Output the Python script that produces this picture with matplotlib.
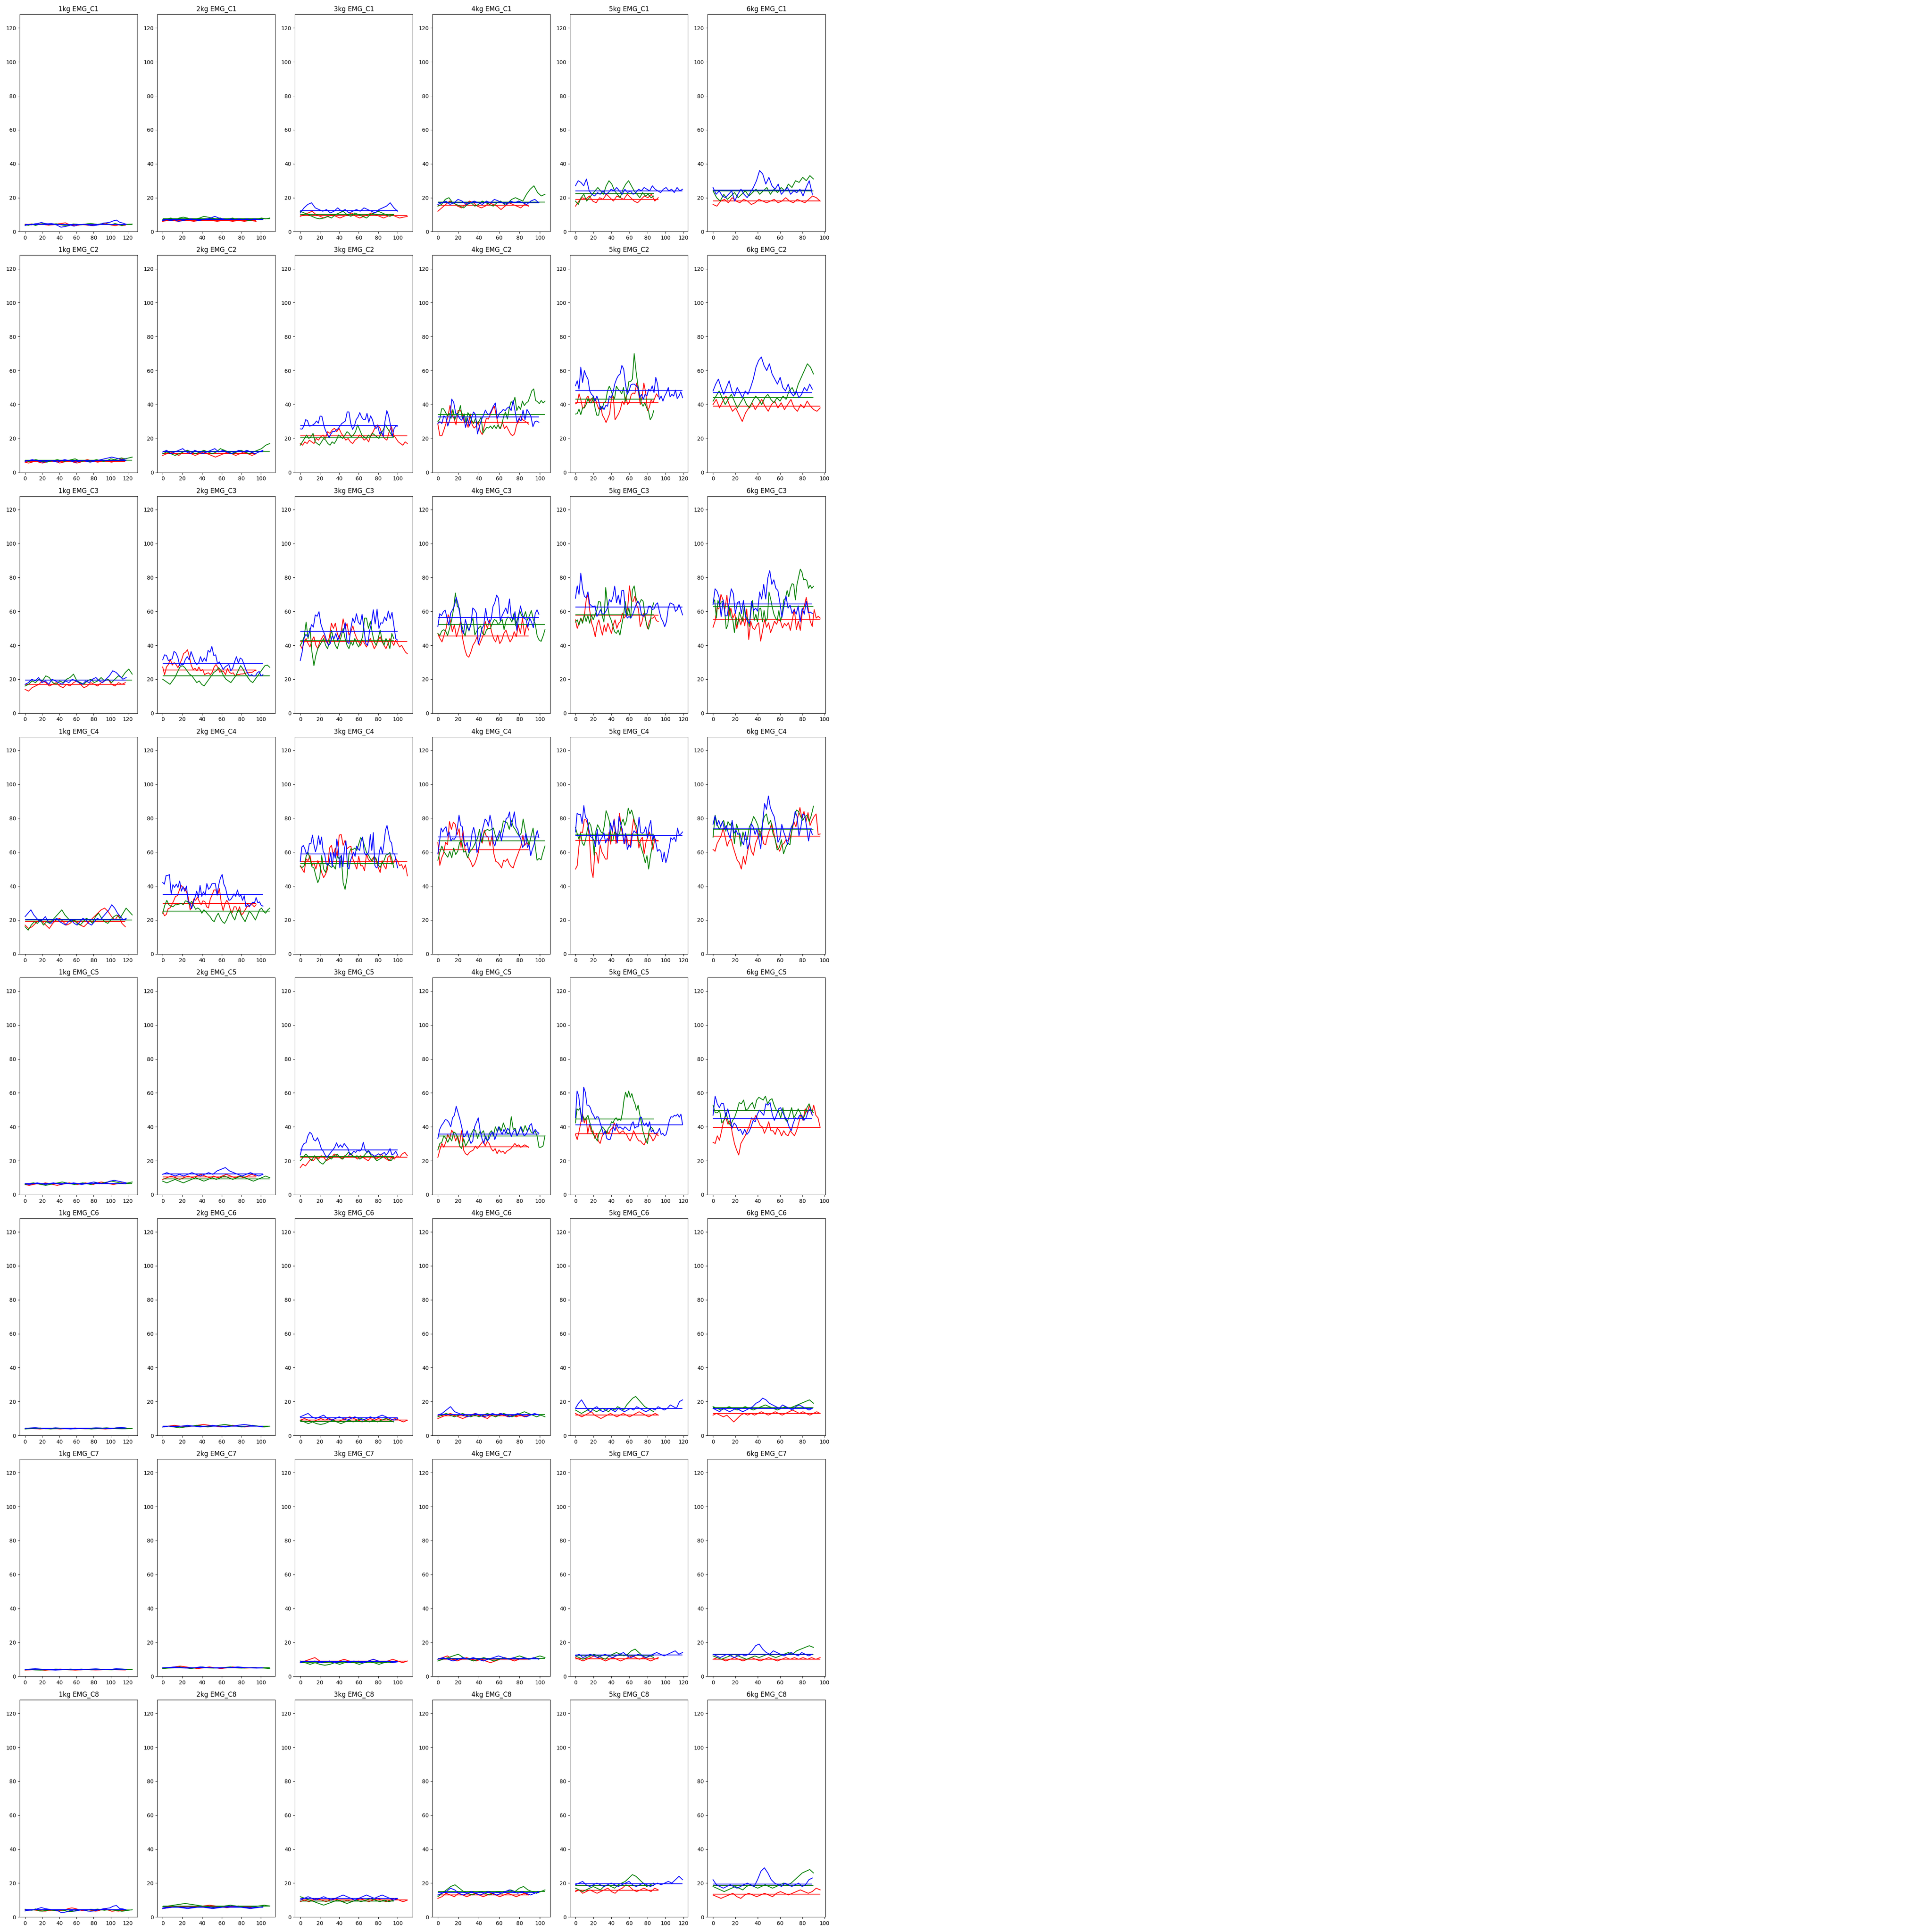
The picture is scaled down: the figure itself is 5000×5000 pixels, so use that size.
import numpy as np
import matplotlib
matplotlib.use("Agg")
import matplotlib.pyplot as plt

KG = ["1kg", "2kg", "3kg", "4kg", "5kg", "6kg"]
CHANNELS = ["EMG_C1", "EMG_C2", "EMG_C3", "EMG_C4", "EMG_C5", "EMG_C6", "EMG_C7", "EMG_C8"]

# number of samples of each trial (per load column)
LEN_RED = [118, 96, 111, 90, 93, 97]
LEN_GREEN = [126, 110, 97, 106, 88, 91]
LEN_BLUE = [119, 103, 101, 100, 120, 90]

# mean level lines  [channel][load]
MEAN_RED = [
    [4.2, 6.5, 9.5, 15.5, 19, 18],
    [6.5, 11, 21.5, 29.5, 41, 39],
    [17, 25.4, 42.3, 45.4, 57.8, 55],
    [19, 29.8, 54.5, 61.5, 67, 69.5],
    [6.5, 10.5, 22, 28.2, 35.9, 39.7],
    [4.1, 5.5, 9.2, 11.6, 12, 13],
    [3.9, 5, 8.9, 10, 10.3, 10],
    [4.1, 6, 10, 13, 15.8, 13.5],
]
MEAN_GREEN = [
    [4.3, 7.5, 10, 17.5, 22.5, 24],
    [7.2, 12.5, 20.5, 34, 43.1, 44],
    [19.5, 22, 42.7, 52.4, 58, 62.7],
    [20, 25.3, 53.2, 66.6, 70.6, 73.4],
    [6.5, 9.3, 22.5, 34.6, 44.5, 49.7],
    [4.1, 5.5, 8.3, 12.2, 16, 16.5],
    [3.9, 5, 8, 10.6, 12.3, 12.8],
    [4.2, 6.5, 9.5, 15, 18.5, 18.5],
]
MEAN_BLUE = [
    [4.3, 7.2, 12.5, 17, 24, 24.5],
    [7, 12.3, 27.7, 32.6, 48.1, 47],
    [19.5, 29.2, 48.3, 56.5, 62.6, 64.3],
    [20.5, 35.1, 59, 69, 69.8, 73.7],
    [6.5, 12.3, 26.3, 35.7, 41.3, 44.9],
    [4.3, 5.5, 10.5, 12.3, 16, 16],
    [4.1, 5, 8.7, 10.3, 12.5, 13],
    [4.3, 5.7, 11, 14.5, 19.7, 19.5],
]

# ---------------- EMG_C1 ----------------
C1_RED = [
    [4.3, 4.2, 4.5, 4.0, 4.3, 4.6, 4.1, 3.8, 4.0, 4.2, 4.6, 4.8, 5.2, 4.3, 3.9, 3.5, 3.8, 4.2, 4.0, 3.7, 3.9, 4.2, 4.0, 4.6, 5.0, 4.3, 3.8, 3.5, 4.0, 3.6, 3.8],
    [6.0, 6.5, 7, 6.5, 6, 7, 7.5, 6.5, 6, 6.5, 7, 6.5, 7, 6.5, 6, 6.5, 7, 6.5, 6, 6.5, 6.5, 6, 6.5, 6.5, 6],
    [9, 10, 11, 12, 10, 9, 8, 9, 10, 9, 8, 9, 10, 11, 9, 8, 9, 10, 11, 10, 9, 8, 9, 10, 9, 8, 8.5, 9],
    [12, 14, 16, 18, 17, 15, 14, 16, 18, 17, 15, 14, 15, 17, 16, 15, 13, 15, 17, 16, 15, 14, 16, 15],
    [15, 18, 20, 19, 21, 18, 17, 20, 19, 22, 20, 18, 21, 20, 19, 22, 20, 18, 17, 19, 21, 20, 22, 18, 20],
    [16, 15, 18, 19, 17, 20, 18, 17, 19, 18, 16, 17, 19, 18, 17, 18, 19, 17, 18, 20, 18, 17, 19, 18, 17, 19, 21, 20, 18],
]
C1_GREEN = [
    [4.0, 3.7, 4.5, 3.6, 4.3, 4.6, 4.5, 4.0, 4.4, 4.6, 4.2, 3.8, 3.5, 3.9, 4.5, 4.3, 4.0, 4.2, 4.6, 4.8, 4.5, 4.2, 4.6, 4.3, 4.5, 4.0, 4.8, 4.2, 3.5, 4.2, 4.3, 4.4],
    [7, 7.5, 8, 7, 8, 8.5, 8, 7, 7.5, 8, 9, 8.5, 8, 7.5, 8, 7, 7.5, 8, 7, 7.5, 7, 6.5, 7, 7.5, 8, 7.5, 8],
    [12, 11, 10, 9, 8, 7.5, 8, 9, 8, 10, 11, 12, 10, 9, 11, 10, 9, 8, 10, 11, 12, 11, 10, 9, 10],
    [15, 16, 19, 20, 17, 16, 15, 14, 16, 17, 15, 16, 18, 17, 16, 15, 17, 18, 16, 17, 19, 20, 19, 18, 22, 25, 27, 23, 21, 22],
    [18, 16, 20, 22, 18, 20, 22, 24, 26, 24, 22, 27, 30, 28, 24, 22, 20, 25, 28, 30, 27, 24, 22, 20, 23, 21, 22, 20, 21],
    [24, 20, 18, 22, 19, 21, 23, 20, 22, 24, 21, 23, 25, 22, 24, 26, 22, 25, 23, 26, 24, 28, 26, 30, 29, 32, 30, 33, 31],
]
C1_BLUE = [
    [3.6, 4.2, 4.0, 4.6, 4.8, 5.4, 4.8, 4.6, 4.8, 4.4, 3.6, 2.6, 2.9, 3.3, 3.8, 3.2, 3.9, 4.1, 4.3, 4.0, 3.6, 3.5, 3.8, 4.3, 5.0, 5.2, 5.5, 6.3, 6.8, 5.5, 5.0, 4.3],
    [6.5, 7, 6.5, 7, 6, 6.5, 7, 7.5, 7, 6.5, 7, 7.5, 8, 9, 8, 7.5, 7, 7.5, 7, 7.5, 7, 7.5, 7, 7.5, 7, 7],
    [11, 14, 16, 17, 14, 13, 12, 13, 11, 12, 14, 12, 13, 11, 12, 13, 12, 14, 13, 12, 11, 13, 14, 15, 17, 14, 12],
    [16, 17, 18, 16, 17, 19, 18, 16, 17, 18, 17, 16, 18, 17, 19, 18, 17, 16, 18, 17, 18, 17, 16, 18, 19, 17],
    [27, 30, 29, 27, 31, 24, 22, 21, 23, 22, 24, 22, 23, 25, 24, 26, 24, 22, 25, 23, 24, 22, 23, 25, 24, 26, 25, 24, 27, 25, 24, 23, 25, 26, 24, 25, 23, 26, 24, 25],
    [26, 22, 24, 21, 20, 22, 24, 18, 22, 25, 22, 20, 23, 26, 30, 36, 34, 28, 32, 27, 25, 28, 22, 24, 26, 22, 24, 23, 25, 21, 26, 30, 22],
]

# ---------------- EMG_C2 ----------------
C2_RED = [
    [6, 5.5, 6, 7, 6, 5.5, 6, 6.5, 7, 6.5, 5.5, 6, 6.5, 7, 6, 5.5, 6, 7, 7.5, 7, 6.5, 6, 6.5, 7, 6.5, 6, 6.5, 7, 8, 7],
    [10, 11, 12, 11, 10, 12, 13, 11, 10, 11, 12, 11, 10, 9, 10, 11, 12, 11, 10, 11, 12, 11, 10, 11],
    [17, 16, 18, 17, 19, 18, 17, 20, 19, 21, 22, 20, 24, 23, 25, 26, 24, 26, 23, 21, 19, 20, 18, 17, 19, 20, 22, 21, 19, 20, 18, 22, 24, 27, 28, 26, 22, 20, 19, 24, 27, 22, 20, 18, 17, 16, 18, 17],
    [28.4, 21.6, 21.6, 25, 28.8, 33, 39.4, 34.1, 31.8, 28, 36.4, 36.7, 34.8, 29.9, 30.3, 26.5, 34.5, 28, 26.1, 27.3, 29.9, 24.2, 22.3, 27.3, 31.8, 31.4, 34.1, 37.1, 39, 33.3, 27.3, 25.8, 29.5, 25.8, 27.3, 25, 22.7, 21.6, 22.7, 28, 29.9, 33.3, 31, 30.3, 29.5, 28.4],
    [40.4, 41, 46.3, 42.7, 37.7, 38.6, 43.6, 45, 41.8, 43.6, 41.4, 43.6, 40, 37.3, 39, 33.7, 31.9, 29.4, 31.9, 34.6, 43.6, 45, 31, 32.8, 34.6, 37.3, 41.8, 40, 44.5, 40, 41.8, 45.9, 46.8, 46.3, 52.6, 47.2, 40, 44.5, 52.6, 47.2, 36.4, 38.2, 42.7, 41, 43.6, 46.3, 44.5],
    [40, 43, 38, 42, 45, 40, 36, 38, 34, 30, 35, 38, 41, 37, 40, 43, 39, 36, 40, 42, 38, 41, 37, 40, 43, 38, 36, 40, 38, 42, 39, 37, 36, 38],
]
C2_GREEN = [
    [7, 6.5, 7, 7.5, 7, 6.5, 6, 6.5, 7, 7.5, 7, 6.5, 7, 7.5, 8, 7, 6.5, 7, 6.5, 7, 7.5, 7, 6.5, 7, 8, 7.5, 8, 8.5, 8, 8.5, 9],
    [11, 12, 11, 10, 11, 12, 13, 12, 11, 12, 13, 12, 11, 12, 14, 13, 12, 11, 12, 13, 12, 11, 12, 13, 14, 16, 17],
    [16, 18, 20, 22, 20, 21, 23, 18, 17, 16, 18, 20, 19, 17, 16, 18, 17, 19, 22, 21, 20, 22, 24, 23, 21, 22, 24, 28, 25, 22, 21, 20, 22, 21, 23, 22, 21, 20, 23, 25, 28, 26, 24, 22, 21],
    [29.9, 31.4, 37.5, 37.5, 35.6, 33.3, 34.8, 31.8, 37.1, 31, 34.5, 35, 39.4, 31.8, 34.5, 29.5, 35.2, 33.3, 30.7, 28.8, 31.8, 28.8, 30.3, 32.6, 23.1, 25, 26.5, 26.1, 27.3, 25.8, 27.7, 25.8, 28, 25.8, 28, 33, 35.6, 31.4, 37.9, 41.7, 40.5, 44.3, 36.4, 39, 37.1, 42, 39.4, 40.9, 41.7, 44.7, 48.1, 49.2, 42.4, 41.7, 40.5, 42.4, 40.9, 42],
    [34.4, 34.6, 37.3, 34, 38, 38, 40, 43.5, 41, 41, 45, 38, 33.7, 33.7, 39, 37.3, 41, 41.8, 48, 50.8, 48.6, 45, 43.6, 50.8, 49, 48, 46.3, 50, 41.8, 46.3, 53.5, 53.5, 55, 70, 60, 52, 46, 41, 39, 41, 38, 36.4, 31, 32.8, 36.4],
    [42, 45, 48, 44, 40, 43, 46, 42, 38, 41, 44, 40, 38, 42, 45, 43, 40, 44, 46, 43, 41, 44, 42, 45, 43, 48, 50, 46, 52, 56, 60, 64, 62, 58],
]
C2_BLUE = [
    [6.5, 7, 7.5, 7, 6.5, 6, 6.5, 7, 6.5, 6, 7, 7.5, 7, 6.5, 6, 6.5, 7, 6.5, 6, 6.5, 7, 7.5, 8, 8.5, 9, 8.5, 8, 7.5, 8],
    [12, 13, 11, 12, 13, 14, 12, 11, 13, 12, 11, 12, 13, 14, 12, 13, 12, 11, 12, 13, 12, 13, 12, 11, 12, 13],
    [25.6, 25.5, 27.3, 31.1, 30.5, 27.3, 27.5, 28, 28.8, 30.3, 29, 33.2, 33, 28, 24.6, 22.7, 20.5, 22.7, 24.2, 24, 25, 25.8, 27.3, 28.8, 29.5, 30.3, 35.6, 35.6, 28.8, 25.4, 27.3, 31.1, 32.6, 35.2, 32.6, 31.1, 31.1, 34.8, 29.5, 33.3, 31.1, 27.3, 25.8, 27.3, 22.7, 24.2, 21.2, 30.3, 36.4, 33.3, 28, 21.2, 25.8, 27.3, 27.3],
    [28.8, 29.9, 28.8, 33.3, 32.6, 27.3, 31, 43.2, 41.3, 34.8, 34.1, 31.8, 30.7, 33, 26.5, 31.8, 27.3, 32.2, 35.6, 34.1, 22.7, 27.3, 31, 33.7, 36.7, 34.5, 34.1, 36.4, 39, 40.9, 31.8, 34.8, 35.6, 37.1, 36.4, 37.9, 38.6, 36.4, 42.4, 36, 29.5, 31.8, 30.3, 36.7, 31, 37.1, 35.2, 33, 26.9, 29.9, 30.3, 29.5],
    [51, 54, 49, 62, 53, 60, 57, 55, 48, 46, 45, 42, 45, 42, 37, 39, 37, 39.5, 39, 45, 44, 47, 52, 55, 57, 58, 63, 61, 52, 46, 48, 51.5, 52, 52, 51, 50, 44, 46, 43, 46, 45, 49, 48, 51, 47, 56, 52, 43, 45, 42, 45, 47, 50, 44.5, 46, 45, 48.5, 43.5, 45, 47.5, 44],
    [48, 52, 55, 50, 46, 50, 54, 48, 45, 50, 47, 44, 48, 46, 50, 55, 62, 66, 68, 63, 60, 64, 58, 55, 52, 56, 50, 48, 52, 47, 45, 48, 44, 46, 50, 48, 52, 49],
]

# ---------------- EMG_C3 ----------------
C3_RED = [
    [14, 13, 15, 16, 17, 19, 18, 16, 17, 18, 16, 15, 17, 16, 18, 19, 17, 15, 16, 18, 17, 16, 18, 19, 20, 17, 16, 18, 17, 18],
    [27.2, 22.7, 27.2, 28.7, 31.7, 28.3, 29.8, 28.7, 26.8, 29.1, 31.7, 35.2, 35.9, 37.4, 33.3, 28.1, 25.7, 26.4, 24.9, 27.2, 24.9, 25.7, 22.7, 23.4, 23.8, 22.7, 24.1, 27.2, 28.7, 26.8, 24.1, 24.9, 24.5, 22.7, 26.4, 24.1, 23.4, 23.8, 21.9, 22.7, 22.7, 23.1, 23.1, 23.4, 23.8, 23.8, 24.1, 24.1, 24.9, 25.3],
    [40, 38, 42, 44, 41, 39, 43, 45, 40, 38, 42, 44, 46, 43, 41, 45, 53, 50, 53, 47, 44, 48, 55.6, 50, 52.8, 46, 48, 51.4, 47, 44, 42, 40, 43, 41, 39, 42, 44, 41, 38, 40, 43, 45, 42, 40, 38, 41, 44, 42, 40, 43, 41, 39, 40, 38, 36, 35],
    [47, 44, 42, 46, 50, 58, 55, 48, 52, 45, 49, 54, 44, 38, 34, 33, 36, 40, 42, 45, 40, 43, 46, 54, 50, 55, 48, 44, 42, 46, 41, 43, 47, 49, 45, 42, 44, 48, 45, 52, 47, 56, 46, 52, 49],
    [55, 50, 53, 56, 54, 58, 67, 70, 60, 53, 50, 45, 52, 55, 50, 46, 52, 48, 53, 50, 47, 52, 55, 50, 53, 54, 59, 56, 57.5, 62, 75, 66.6, 65.8, 68.9, 63.6, 61.3, 51, 54, 59, 55, 50, 54, 56, 56, 57, 54.5, 54],
    [50.6, 54.2, 62.3, 61.4, 70, 66.8, 61.4, 69.5, 56.9, 61.9, 56, 58.7, 49.7, 56, 52, 56.9, 51.5, 61.4, 43.4, 54.2, 50.2, 49.3, 52, 53.3, 42.5, 48.8, 55.1, 50.6, 53.3, 47.5, 50.6, 54.2, 52.4, 55.1, 54.2, 50.2, 52.9, 51.5, 53.3, 48.8, 55.1, 61.4, 49.3, 54.2, 48.8, 59.6, 63.2, 68.2, 61.4, 54.2, 51.1, 61, 56, 57.1, 56],
]
C3_GREEN = [
    [16, 17, 19, 18, 20, 19, 22, 21, 18, 17, 19, 18, 20, 21, 23, 19, 18, 17, 19, 20, 18, 19, 21, 19, 20, 18, 20, 22, 21, 24, 26, 23],
    [20, 19, 18, 17, 19, 21, 24, 27, 28, 27, 25, 23, 22, 20, 18, 19, 17, 16, 18, 20, 22, 24, 25, 26.8, 25, 22, 20, 19, 18, 20, 22, 25, 28, 26, 23, 21, 19, 18, 20, 22, 24, 26, 28, 28.3, 27],
    [40, 42, 45, 53.7, 44, 50, 36, 28, 34, 38, 40, 42, 44, 40, 38, 42, 48.9, 44, 40, 38, 42, 45, 50, 44, 40, 38, 42, 40, 44, 41, 39, 42, 45, 56, 56, 50, 54, 47, 42, 40, 44, 49, 43, 40, 44, 42, 38, 47, 44],
    [46.9, 45.8, 48.4, 49.2, 48.4, 45.8, 49.9, 54.5, 60.9, 70.8, 62.8, 62, 53, 48.4, 45.4, 52.2, 48.4, 53, 56, 46.1, 48.4, 50.3, 51.4, 46.9, 46.1, 49.2, 49.9, 49.9, 53, 55.2, 54.5, 52.2, 53.7, 55.2, 49.2, 54.5, 56.7, 56, 53.7, 58.6, 51.4, 56, 60.5, 57.5, 56, 59.8, 54.8, 57.5, 60.5, 55.2, 52.6, 45.4, 43.1, 42.3, 45.4, 49.2],
    [53.7, 55, 52, 56, 53, 58, 54, 57.5, 53, 58, 55, 58, 60.5, 65.8, 65.5, 57.5, 53.7, 74, 64, 57.5, 55, 51.4, 48, 47, 49, 46, 52, 57.5, 65.8, 57.5, 62, 56, 72.7, 75, 68, 65, 64.7, 67, 66, 58, 52, 49.5, 53, 62, 65],
    [65, 66.8, 56, 66.4, 63.7, 65.5, 65.9, 61.4, 49.7, 52, 62.3, 56.5, 55.1, 47.5, 56.5, 52, 59.6, 56.5, 54.2, 63.2, 56.9, 56, 51.1, 59.6, 66.4, 54.7, 58.3, 53.8, 61.4, 61.9, 53.8, 60.5, 54.2, 56, 71.4, 67.3, 62.3, 58.3, 56, 54.7, 60.5, 54.2, 58.3, 66.8, 67.7, 72.3, 68.6, 73.6, 76.3, 75.9, 66.8, 75.9, 80.4, 84.9, 83.1, 78.6, 79, 78.1, 73.6, 75.4, 73.6, 74.8],
]
C3_BLUE = [
    [17, 18, 20, 19, 21, 18, 19, 17, 20, 19, 18, 17, 19, 18, 20, 19, 18, 17, 19, 18, 20, 21, 19, 18, 20, 22, 25, 24, 22, 20, 21],
    [31.4, 34.4, 34, 31, 31.5, 32, 36.4, 35.5, 32.9, 28, 28.7, 28.7, 31.7, 33.3, 31.4, 36.3, 33.3, 30.2, 28.7, 29.5, 33.3, 30.2, 32.5, 30.6, 37, 35.9, 39.3, 34, 34.4, 29.1, 30.2, 28, 25.7, 27.2, 28, 28.7, 24.9, 26.4, 30.2, 33.3, 29.5, 32.5, 31.7, 28.7, 25.7, 23.4, 21.9, 22.7, 21.9, 21.9, 23.8, 24.6, 21.9, 22.7],
    [31, 36, 44, 46.5, 45, 47.7, 52.2, 50.7, 57.9, 57.1, 59.8, 52.6, 49.2, 46.5, 43, 40, 41, 45.4, 43.9, 46.9, 43, 45.8, 48.4, 47.5, 53.3, 42, 41, 49.9, 56, 53.3, 58.6, 53.7, 52.2, 58.3, 49.5, 41, 40, 48.4, 53, 60.9, 52.6, 61.3, 49.9, 53.3, 53, 56.7, 54.5, 60.2, 55.6, 59.4, 51.4, 43.9, 43],
    [51.1, 58.6, 57.5, 59.8, 60.7, 56, 51.8, 59, 60.9, 63.2, 68.3, 64.3, 58.3, 49.2, 46.9, 55.2, 50.7, 48.8, 52.2, 62, 60.9, 59, 40.8, 45, 49.9, 51.8, 61.7, 55.2, 53, 55.2, 62.8, 65.1, 69.6, 67.7, 54.5, 57.5, 59.8, 62, 58.6, 67.3, 56.4, 55.2, 59.8, 48.8, 56.7, 63.2, 58.3, 56, 55.2, 50.7, 56, 53.7, 50.3, 58.6, 60.9, 58.3],
    [67.7, 75, 70, 82.5, 73.4, 68.9, 68, 71.5, 64.3, 63.2, 62.8, 63.2, 57, 58.5, 61, 58.5, 58.5, 60, 62, 67, 65.5, 68.5, 74.9, 65.1, 69.6, 63.9, 72.3, 72.3, 60, 56, 57, 56, 58, 61, 64, 66, 64, 58, 57, 58.5, 58.6, 63, 63, 61, 61.5, 64, 65, 60, 56, 54, 51, 54, 62, 65, 64.5, 64, 60, 61, 64, 61.3, 57.9],
    [64.1, 73.3, 71.8, 68.2, 56.9, 66.8, 57.4, 57.4, 65.5, 73.3, 70.5, 58.7, 65, 65.9, 58.7, 66.4, 56.9, 54.2, 52.9, 65.9, 60.5, 61.9, 60.1, 71.4, 67.3, 75.9, 67.3, 79.6, 84, 75.9, 78.6, 73.6, 72.3, 65, 56.5, 63.2, 69.1, 61.9, 63.7, 58.7, 61, 58.3, 63.2, 53.8, 61.9, 58.3, 65.9, 59.2, 59.6, 58.7],
]

# ---------------- EMG_C4 ----------------
C4_RED = [
    [17, 15, 16, 18, 20, 19, 17, 15, 18, 20, 21, 19, 17, 18, 20, 19, 17, 16, 18, 20, 22, 24, 26, 27, 25, 22, 20, 23, 18, 16],
    [24.8, 22.5, 23.3, 26.7, 27.1, 29, 31.3, 33.9, 34.3, 37.3, 40.4, 39.2, 38.5, 36.6, 33.2, 25.9, 28.6, 32.4, 31.6, 33.5, 30.9, 29, 31.3, 30.9, 27.8, 27.1, 32.4, 34.7, 37.7, 37.7, 34.7, 38.5, 30.1, 25.6, 29.4, 31.6, 29.8, 25.9, 24.4, 27.8, 27.8, 24.8, 27.8, 22.9, 24, 25.9, 27.8, 28.2, 29, 29, 27.8, 29],
    [52, 50, 48, 56, 55, 58, 52, 53.7, 50, 55, 52, 48, 45, 47, 50, 62.4, 64, 58, 62.4, 57, 70, 70.4, 64, 67, 62, 63, 63.5, 56, 53, 50, 57.5, 52, 52, 49, 59, 55.5, 54.5, 56, 57.5, 55, 51, 48, 55, 52, 50, 57, 58, 53, 53.7, 56.3, 54.5, 52, 52.7, 50, 52.5, 46],
    [65.8, 52.2, 56.7, 59.4, 65.8, 64.3, 78, 73.4, 77.6, 76.4, 70.4, 73.8, 62.8, 72.7, 62, 58, 56.5, 54.5, 51.4, 53, 56, 60, 68.9, 65.3, 73, 69.6, 68.9, 63.6, 69.6, 59, 54.5, 54, 52.5, 50.7, 55.2, 54.5, 56, 53, 51.4, 50.7, 54.5, 57.5, 60.6, 63.6, 70, 64, 65.8, 64.3],
    [50, 52, 63.5, 71.9, 71.5, 79.1, 79, 76.4, 67.3, 50, 45, 59.7, 59.5, 53.5, 64.3, 60.1, 58.2, 55.9, 55.9, 71.5, 64.7, 72.6, 79.5, 65, 70.4, 82.9, 74.5, 68.8, 65, 69.6, 64.3, 63.5, 71.9, 79.8, 74.9, 70.4, 62.4, 67.3, 68.8, 59, 65.8, 68.8, 71.9, 66.6, 61.3, 68.1, 66.6, 66.6],
    [61.6, 60.5, 65, 67.3, 69.6, 74.2, 68.8, 63.5, 66.6, 67.7, 62.8, 59, 55.2, 53.7, 50, 57.5, 52.9, 59.7, 65.8, 60.5, 58.2, 65, 68.1, 72.6, 71.1, 65, 64.3, 69.6, 73.4, 76.8, 71.9, 65.8, 62.8, 60.5, 64.3, 65, 67.3, 66.6, 68.1, 72.3, 78, 74.9, 81, 86.3, 79.5, 84, 78, 83.3, 75.7, 78.7, 81, 82.5, 70.4, 70.7],
]
C4_GREEN = [
    [16, 14, 17, 19, 18, 20, 17, 19, 18, 20, 22, 24, 26, 23, 21, 19, 20, 18, 17, 19, 21, 20, 18, 22, 24, 21, 19, 18, 20, 22, 23, 21, 24, 27, 25, 23],
    [24, 28.6, 31.6, 29, 28.2, 27.8, 29, 29, 29.4, 29.8, 29, 31.3, 30.9, 29, 31, 28.6, 26.3, 27.1, 26.3, 24, 26, 24.8, 23.3, 22, 20, 19, 22, 24, 21, 19, 18, 20, 23, 25, 22, 20, 24, 26, 23, 21, 19, 22, 25, 24, 22, 20, 23, 26, 27, 25, 24, 26, 27],
    [51.4, 51, 52, 57.5, 59.8, 56, 51.4, 50.7, 46, 42, 45, 58, 50, 48, 53, 52, 51, 52, 50, 57.5, 56, 58, 42, 38, 45, 59, 62, 61.5, 62.4, 61, 64.7, 68.5, 67.4, 63.6, 59.8, 58.3, 56, 54.5, 57.5, 56, 52.5, 51, 53.5, 55, 58.3, 58.7, 59.8, 56, 51],
    [55.2, 60, 63.6, 60.5, 58.6, 57, 60.5, 56.7, 62.4, 58.6, 60.5, 65.8, 66.6, 60, 60.5, 56.7, 60, 61.5, 63.2, 65.8, 68.1, 73.4, 65.8, 70.4, 72.7, 73.4, 72.7, 73.4, 74.2, 69.6, 66.6, 70, 71.9, 78.4, 78, 77.2, 73.4, 78.7, 75, 73.4, 71.2, 69.6, 71.2, 79.5, 73, 68.1, 64.3, 69.4, 74.2, 64.3, 55.2, 56.3, 55.5, 60, 63.6],
    [74.5, 71, 67.7, 71.1, 65.4, 63.9, 67.3, 73.4, 77.6, 75.7, 70.4, 58.2, 72.3, 76.1, 74.2, 71.9, 71.1, 75.7, 84.4, 81.7, 78, 66.6, 67, 71.9, 71.1, 69.2, 71.1, 77.2, 79.5, 75.7, 78.7, 85.9, 82.5, 84.8, 81, 77.2, 75.3, 66.6, 65, 61.3, 58.2, 53.7, 58, 50, 57.5, 62.8, 69.6],
    [68.8, 81.7, 76.1, 73.4, 76.8, 78.7, 72.3, 78, 75.7, 78, 65, 76.4, 72.6, 63.5, 71.9, 67.7, 67.3, 74.9, 77.2, 81, 78.7, 75.7, 68.8, 75.7, 81, 82.5, 76.4, 78.7, 71.1, 68.1, 61.3, 62.8, 67.3, 59, 62.8, 65.4, 64.3, 74.2, 80.2, 84.8, 84, 81, 78.7, 81, 81.7, 78, 81.7, 87.1],
]
C4_BLUE = [
    [22, 24, 26, 23, 21, 19, 20, 22, 19, 18, 20, 21, 19, 18, 17, 19, 20, 18, 17, 19, 21, 20, 18, 17, 19, 21, 20, 22, 24, 26, 29, 27, 24, 22, 20, 21],
    [42.1, 41.1, 46.2, 46.2, 46.8, 35.3, 40.8, 39.2, 41.1, 39.2, 43, 37, 39.6, 37, 40, 30.9, 30.1, 26.7, 30.1, 33.2, 37, 33.2, 40.4, 33.9, 36.6, 34.7, 41.5, 38.1, 39.2, 41.4, 41.5, 41.5, 34.7, 40.8, 44.9, 46.8, 41.1, 38.9, 34.3, 31.6, 32, 33.5, 35.4, 33.9, 37.7, 33.9, 34.7, 31.6, 34.3, 27.8, 29.4, 27.8, 29.4, 30.5, 30.1, 33.2, 30.1, 30.7, 28.6, 28.2],
    [54.5, 63, 63.9, 62, 59, 60.2, 65.1, 65, 70, 64.3, 60.2, 63.6, 69.6, 64.3, 68.9, 60.5, 59, 53.3, 52.2, 53.7, 59.8, 51.4, 60, 56.4, 67.7, 62, 50.7, 58.3, 51.4, 61.7, 66.6, 51.4, 50, 55.2, 57.5, 60, 57.5, 63.6, 62, 61, 66.6, 68.9, 60, 58.3, 58.7, 60.2, 70.4, 61, 71.5, 52.2, 50.7, 51.4, 60.5, 63.2, 59, 65.1, 73, 75.7, 71.2, 66.6, 65.5, 59, 59, 54.5, 50.7],
    [59, 65.8, 74.2, 71.9, 73.8, 75, 69.6, 71.9, 66.6, 68, 67.5, 68.9, 74.6, 81.8, 75.7, 75, 65.5, 63.6, 65.8, 59.8, 64.3, 71.2, 74.6, 70, 59.8, 62, 66.6, 71.5, 75.7, 79.5, 78.4, 75.3, 81.8, 77.2, 65.8, 63.6, 68.1, 70, 72.7, 66.6, 71.5, 75.7, 79.9, 80.3, 83.7, 75, 79.5, 83.7, 75, 73.4, 69.6, 67.4, 62.8, 64.3, 71.2, 62.8, 64.3, 57.9, 61.7, 64.3, 68.9, 72.7, 68.5],
    [71.9, 82.9, 82.1, 82.3, 76.8, 87.4, 80.6, 79.5, 73.4, 69.2, 68.5, 67.3, 63.2, 73.4, 64.3, 67.3, 68.8, 71.5, 65.4, 68.1, 66.6, 77.2, 72.3, 79.1, 72.6, 65.4, 81, 76.4, 73.4, 65, 71.1, 61.6, 64.3, 62.8, 70.4, 72.6, 71.5, 71.1, 80.6, 71.5, 71.1, 71.9, 74.9, 68.5, 74.9, 78.7, 67.3, 70, 65.8, 60.5, 61.6, 60.5, 54.4, 60, 53.7, 57.5, 62.4, 68.5, 67.3, 68.8, 66.2, 74.2, 70, 70.7, 71.9],
    [76.4, 81.4, 75.7, 78.7, 74.9, 78, 73.4, 75.7, 71.1, 68.1, 78.7, 71.1, 73, 70.4, 71.1, 66.6, 64.3, 71.9, 62, 65, 76.8, 74.9, 70.4, 73.4, 68.1, 62, 78, 88.6, 85.2, 93.1, 86.3, 83.3, 81, 74.9, 65.8, 68.1, 76.4, 71.9, 68.8, 64.3, 70.4, 74.9, 76.8, 84, 81, 69.6, 74.9, 82.5, 81.7, 74.9, 66.6, 73.4, 70.4],
]

# ---------------- EMG_C5 ----------------
C5_RED = [
    [6, 5.5, 6, 6.5, 6, 7, 6.5, 6, 5.5, 6, 6.5, 7, 6.5, 6, 6.5, 7, 6.5, 6, 7, 7.5, 7, 6.5, 6, 6.5, 7, 6.5],
    [9, 10, 11, 10, 9, 10, 11, 10, 11, 12, 11, 10, 11, 10, 11, 12, 11, 10, 11, 10, 11, 12, 11],
    [16, 18, 17, 19, 21, 20, 22, 21, 23, 22, 20, 21, 22, 24, 23, 22, 21, 23, 22, 24, 23, 22, 21, 23, 22, 21, 20, 22, 23, 21, 22, 24, 22, 21, 20, 22, 21, 23, 22, 24, 25, 23],
    [22, 26.4, 30.2, 28, 30.9, 35.5, 33, 38.1, 36, 31.7, 34.7, 30.2, 37.7, 26.4, 24.2, 23.4, 25, 25.7, 26.4, 28.7, 27.2, 28.7, 30.2, 31.7, 28.7, 31.4, 30.2, 27.2, 25.7, 27.2, 24.2, 26.4, 25, 25.7, 24.2, 25.7, 26.4, 27.2, 28.7, 30.2, 28.7, 29.4, 27.9, 28.7, 29.4, 28.7, 27.9],
    [35.5, 32.5, 37, 42.3, 47.5, 42.3, 45.3, 36.2, 41.5, 37, 37.7, 33.2, 36.2, 31.7, 30.2, 34, 36.2, 37.7, 37, 36.2, 38.5, 39.2, 42.3, 40, 37.7, 36.2, 37, 37.7, 36.2, 35.5, 33.2, 31.7, 34, 37.7, 35.5, 33.2, 31.7, 31.7, 30.2, 29.4, 31.7, 33.2, 35.5, 34, 31.7, 33.2, 35.8, 34.7],
    [30.9, 30.2, 34.7, 32.1, 37.7, 43.8, 45.3, 41.5, 43.8, 36.2, 30.2, 26.4, 23.4, 30.2, 32.5, 34.7, 37.7, 40.8, 45.3, 43.8, 46.8, 43.8, 40.8, 40, 36.2, 39.2, 43, 37.7, 37.7, 35.5, 39.2, 37.7, 34.7, 37.7, 35.5, 34.7, 37.7, 36.2, 34.7, 37.7, 42.3, 47.5, 43.8, 50.6, 48.3, 52.8, 47.5, 52.8, 46.8, 45.3, 39.7],
]
C5_GREEN = [
    [6, 6.5, 7, 6.5, 6, 5.5, 6, 6.5, 7, 7.5, 7, 6.5, 6, 6.5, 7, 6.5, 6, 7, 6.5, 7, 7.5, 8, 7.5, 7, 6.5, 7, 7.5],
    [8, 7, 8, 9, 8, 7, 8, 9, 10, 9, 8, 9, 10, 9, 10, 11, 10, 9, 10, 11, 10, 9, 8, 9, 10, 11, 10],
    [20, 22, 24, 22, 20, 23, 21, 19, 18, 20, 22, 21, 23, 24, 22, 21, 23, 25, 24, 22, 23, 21, 22, 24, 26, 23, 22, 20, 21, 22, 23, 21, 20, 22],
    [26.4, 30.2, 30.9, 34.7, 33.2, 30.9, 33.6, 31.7, 37, 36.2, 33.2, 28.7, 27.2, 33, 28.7, 30.9, 33.2, 36.2, 38.5, 37.7, 33.2, 37, 36.2, 37.7, 33.2, 31.7, 36.2, 37.7, 34.7, 40, 37, 40, 37.7, 42.3, 39.2, 36.2, 36.2, 46, 38.5, 39.2, 34.7, 37.7, 40, 37, 40.8, 37.7, 39.6, 37, 36.2, 37.7, 34.7, 27.9, 28, 28.7, 34.7],
    [42.3, 50.6, 49.8, 51.3, 45.3, 46, 43.8, 45.3, 46.8, 43, 40, 36.2, 34.7, 33.2, 31.7, 36.2, 37.7, 40, 39.2, 37.7, 36.2, 39.2, 40, 43, 42.3, 44.5, 45.3, 43.8, 44.5, 43.8, 48.3, 55.8, 60.4, 57.4, 61.1, 57.4, 59.6, 55.8, 53.6, 49.8, 52.8, 47.5, 43, 37.7, 34.7, 31.7, 30.2, 37.7, 40, 39.2, 37.7],
    [52.8, 48.3, 48.3, 49.8, 42.3, 43.8, 48.3, 43, 40.8, 43.8, 46, 49.8, 54.3, 53.6, 55.8, 49.8, 50.6, 52.8, 54.3, 50.6, 55.8, 57.4, 56.6, 55.8, 58.1, 53.6, 55.8, 56.6, 52.8, 49.8, 49.1, 45.3, 51.3, 44.5, 43, 46.8, 51.3, 45.3, 47.5, 50.6, 48.3, 44.5, 46.8, 51.3, 53.6, 49.8, 48.3],
]
C5_BLUE = [
    [6.5, 6, 6.5, 7, 6.5, 6, 6.5, 7, 6.5, 6, 7, 6.5, 7, 6.5, 6, 6.5, 7, 7.5, 7, 6.5, 7, 8, 8.5, 8, 7.5, 7],
    [12, 13, 12, 11, 12, 11, 12, 13, 12, 11, 12, 13, 12, 14, 15, 16, 14, 13, 12, 11, 12, 13, 12, 11, 12],
    [23.4, 28.3, 30.2, 30.6, 34.7, 36.8, 35.8, 32.5, 31.7, 33.6, 30.9, 27.2, 25.7, 23.4, 22, 23.5, 24.9, 26.4, 27.9, 30.6, 27.9, 29.4, 27.9, 30.2, 28.7, 27.2, 23.4, 24.1, 25.6, 24.9, 26.4, 25.7, 26.4, 30.9, 26.4, 24.9, 25.7, 24.1, 23.4, 22.6, 23.4, 24.1, 23.4, 24.1, 24.9, 23.4, 24.9, 27.2, 23.4, 24.1, 25.6, 23.4],
    [33.2, 38.5, 40.8, 42.3, 44.2, 44, 42.6, 40, 45.3, 46.8, 52.1, 48.3, 44.5, 40, 34, 34.7, 37.7, 33.2, 30.2, 31.7, 40, 42.6, 45.3, 37.7, 33.2, 30.2, 34.7, 31.7, 33.2, 36.2, 37, 32.5, 35.5, 40, 37.7, 35.5, 38.5, 36.2, 39.2, 37.7, 34.3, 37, 38.5, 34.7, 36.2, 40, 37, 34.7, 35.5, 37.7, 40.8, 41.9, 36.2, 38.5, 37, 36.2],
    [45.3, 61.1, 58.1, 49.1, 43, 63.4, 60.4, 52.8, 52.8, 51.3, 48.3, 46.8, 44.5, 46, 45.7, 42.3, 39.2, 35.5, 37.7, 33.2, 32.5, 32.5, 35.5, 40, 37.7, 41.9, 39.2, 40, 39.2, 38.5, 40, 39.2, 38.1, 37.7, 41.5, 43, 39.2, 40, 40, 45.3, 45.7, 42.3, 40.8, 42.3, 40, 43, 37, 38.1, 36.2, 36.2, 37, 39.2, 35.5, 36.2, 34.7, 35.5, 39.2, 43.8, 46, 45.7, 46.8, 46.4, 47.5, 45.7, 47.5, 41.3],
    [46.8, 58.1, 53.6, 51.3, 54, 53.6, 46, 50.6, 45.3, 39.2, 42.3, 40.8, 37.7, 38.5, 35.5, 38.5, 35.5, 37, 40, 43.8, 43, 47.5, 49.8, 48.3, 46.8, 53.6, 52.8, 54.3, 47.5, 43.8, 46.8, 50.6, 51.3, 48.3, 46, 43.8, 40, 37.7, 42.3, 45.3, 44.5, 46.8, 46.8, 43.8, 45.3, 49.1, 50.6, 46.8],
]

# ---------------- EMG_C6 ----------------
C6_RED = [
    [4, 4.2, 4, 3.8, 4.1, 4.3, 4, 3.8, 4, 4.2, 4.4, 4.1, 3.9, 4, 4.2, 4, 3.8, 4, 4.3, 4.1, 4],
    [5, 5.5, 6, 5.5, 5, 5.5, 6, 6.5, 6, 5.5, 5, 5.5, 6, 5.5, 5, 5.5, 5.5],
    [9, 10, 9, 8, 9, 10, 9, 10, 9, 8, 9, 10, 11, 10, 9, 8, 9, 10, 9, 10, 9, 10, 9, 10, 9, 8, 9],
    [10, 11, 12, 13, 12, 11, 10, 11, 12, 13, 12, 11, 10, 12, 11, 13, 12, 11, 12, 11, 12, 11, 12],
    [13, 12, 11, 12, 13, 14, 12, 11, 10, 11, 12, 13, 12, 11, 12, 13, 12, 11, 12, 13, 14, 13, 12, 11, 12, 13, 12],
    [12, 13, 12, 11, 12, 10, 8, 10, 12, 13, 12, 13, 12, 13, 14, 13, 12, 13, 14, 13, 12, 13, 14, 15, 14, 13, 14, 13, 12, 13, 14, 13],
]
C6_GREEN = [
    [3.8, 4, 4.2, 4.4, 4, 3.8, 4, 4.2, 4.1, 3.9, 4, 4.2, 4, 3.8, 4, 4.3, 4.5, 4.2, 4, 3.9, 4, 4.2],
    [5, 5.5, 5, 4.5, 5, 5.5, 6, 5.5, 5, 5.5, 6, 6.5, 6, 5.5, 5, 5.5, 6, 5.5, 5, 5.5],
    [9, 8, 7, 8, 7, 6.5, 7, 8, 9, 8, 7, 8, 9, 8, 9, 10, 9, 8, 9, 8, 9, 10, 9, 8],
    [11, 12, 13, 12, 11, 12, 13, 12, 11, 12, 11, 12, 13, 12, 11, 12, 13, 12, 11, 12, 13, 14, 13, 12, 11, 12, 11],
    [15, 14, 13, 14, 15, 16, 15, 14, 15, 16, 15, 14, 16, 15, 17, 16, 15, 18, 20, 22, 23, 21, 19, 17, 16, 15, 14],
    [17, 16, 15, 16, 17, 16, 15, 16, 17, 16, 15, 16, 17, 18, 17, 16, 15, 16, 17, 16, 17, 18, 19, 20, 21, 19],
]
C6_BLUE = [
    [4.2, 4.4, 4.6, 4.3, 4, 4.2, 4.5, 4.3, 4, 3.8, 4, 4.2, 4, 4.3, 4.5, 4.4, 4.1, 4, 4.5, 4.8, 4.4],
    [5, 5.5, 5, 5.5, 6, 5.5, 5, 5.5, 6, 5.5, 5, 5.5, 6, 6.5, 6, 5.5, 5],
    [11, 12, 13, 11, 10, 11, 12, 10, 9, 10, 11, 10, 9, 10, 11, 10, 9, 10, 11, 10, 11, 12, 11, 10, 9, 10],
    [12, 13, 15, 17, 14, 13, 12, 11, 12, 13, 12, 11, 12, 13, 12, 13, 12, 11, 12, 13, 12, 11, 12, 13, 12],
    [16, 19, 21, 18, 15, 14, 16, 17, 15, 14, 15, 16, 15, 14, 16, 15, 14, 15, 16, 15, 17, 16, 15, 14, 15, 16, 15, 17, 16, 15, 16, 18, 17, 16, 20, 21],
    [16, 15, 14, 16, 15, 14, 15, 16, 15, 14, 15, 16, 17, 19, 20, 22, 21, 19, 18, 17, 16, 18, 17, 16, 15, 17, 18, 17, 16, 15, 16],
]

# ---------------- EMG_C7 ----------------
C7_RED = [
    [3.6, 3.8, 4, 3.7, 3.5, 3.8, 4, 4.2, 4, 3.8, 3.6, 3.8, 4, 3.9, 3.7, 3.8, 4, 4.1, 3.9, 3.8, 3.7],
    [4.5, 5, 5.5, 6, 5.5, 5, 4.5, 5, 5.5, 5, 4.5, 5, 5.5, 5, 4.8, 5, 5.2],
    [8, 9, 10, 11, 9, 8, 9, 8, 9, 10, 9, 8, 9, 8, 9, 10, 9, 8, 9, 10, 9, 8, 9],
    [10, 11, 12, 10, 9, 10, 11, 10, 9, 10, 9, 8, 9, 10, 11, 10, 9, 10, 11, 10],
    [11, 10, 9, 10, 11, 12, 11, 10, 9, 10, 11, 10, 9, 10, 11, 12, 11, 10, 11, 10, 9, 10, 11],
    [10, 11, 10, 9, 10, 11, 10, 9, 10, 11, 10, 9, 10, 11, 10, 9, 10, 11, 10, 11, 10, 11, 10, 11, 10, 11],
]
C7_GREEN = [
    [3.8, 4, 3.7, 3.6, 3.8, 4, 4.2, 4.1, 3.9, 3.8, 4, 4.2, 4, 3.8, 4, 4.1, 3.9, 3.8, 4, 4.2, 4.1, 3.9],
    [4.5, 4.8, 5, 5.5, 5, 4.5, 5, 5.5, 5, 4.8, 5, 5.2, 5.5, 5, 4.8, 5, 5.2, 5, 4.8, 4.5],
    [9, 8, 7, 8, 7, 6.5, 7, 8, 7, 8, 9, 8, 7, 8, 9, 8, 7, 8, 9, 8],
    [9, 10, 11, 12, 13, 11, 10, 9, 10, 11, 10, 9, 10, 11, 10, 11, 12, 11, 10, 11, 12, 11],
    [12, 11, 10, 11, 12, 13, 12, 11, 10, 12, 13, 14, 13, 12, 13, 15, 16, 14, 12, 11, 12, 11],
    [12, 11, 10, 11, 12, 13, 12, 11, 10, 11, 12, 11, 12, 13, 12, 11, 12, 13, 14, 13, 15, 16, 17, 18, 17],
]
C7_BLUE = [
    [4, 4.2, 4.5, 4.2, 4, 3.8, 3.6, 3.8, 4, 4.2, 4, 3.8, 4, 4.2, 4.4, 4.1, 3.9, 4, 4.5, 4.3, 4],
    [5, 5.2, 5.5, 5, 4.8, 5, 5.5, 5.2, 5, 4.8, 5, 5.2, 5.5, 5.2, 5, 4.8, 5],
    [8, 9, 8.5, 9, 8, 8.5, 9, 8, 8.5, 9, 8, 9, 8.5, 8, 9, 10, 9, 8.5, 9, 8, 8.5],
    [10, 11, 10, 9, 10, 11, 10, 11, 10, 9, 10, 11, 12, 11, 10, 11, 10, 11, 10, 11, 10],
    [12, 13, 11, 12, 13, 12, 11, 12, 13, 12, 11, 12, 13, 14, 12, 11, 12, 13, 12, 11, 12, 13, 14, 13, 12, 13, 14, 15, 13, 14],
    [13, 12, 11, 12, 13, 12, 11, 12, 13, 12, 13, 15, 18, 19, 16, 14, 13, 15, 14, 13, 12, 13, 14, 13, 12, 14, 13, 12, 13],
]

# ---------------- EMG_C8 ----------------
C8_RED = [
    [4.2, 4.0, 4.3, 4.1, 3.8, 3.6, 3.5, 3.8, 4.0, 3.7, 3.6, 3.9, 4.3, 5.0, 5.4, 5.0, 4.4, 3.8, 4.0, 4.2, 3.9, 3.5, 3.7, 4.5, 4.9, 4.0, 3.4, 3.7, 3.5, 3.9, 4.0],
    [5, 5.5, 6, 6.5, 6, 5.5, 6, 6.5, 7, 6.5, 6, 5.5, 6, 6.5, 6, 5.5, 6],
    [9, 10, 9, 10, 11, 10, 9, 10, 11, 10, 9, 10, 9, 10, 11, 10, 9, 10, 11, 10, 9, 10, 11, 10, 9, 10],
    [11, 12, 14, 13, 12, 14, 13, 12, 13, 14, 13, 12, 13, 14, 13, 12, 13, 14, 13, 12, 13, 14, 13],
    [15, 16, 14, 15, 16, 15, 14, 15, 16, 17, 15, 14, 16, 17, 19, 18, 16, 15, 16, 17, 16, 15, 17, 16],
    [13, 12, 11, 12, 13, 14, 12, 11, 13, 14, 13, 12, 13, 14, 13, 12, 14, 15, 14, 13, 14, 15, 16, 15, 14, 15, 17, 16],
]
C8_GREEN = [
    [4.6, 4.2, 4.0, 4.8, 3.6, 3.5, 3.8, 4.2, 4.0, 3.7, 4.2, 4.0, 3.5, 3.2, 3.4, 3.9, 4.2, 4.4, 4.1, 4.6, 4.4, 4.7, 4.3, 4.0, 4.4, 4.2, 4.0, 3.9, 3.4, 3.7, 4.0, 4.3],
    [6, 6.5, 7, 7.5, 8, 7.5, 7, 6.5, 6, 5.5, 6, 6.5, 7, 6.5, 6, 5.5, 6, 6.5, 7, 6.5],
    [12, 11, 10, 9, 8, 7, 8, 9, 10, 9, 8, 9, 10, 9, 10, 11, 10, 9, 10, 9, 10],
    [12, 14, 16, 18, 19, 17, 15, 14, 13, 14, 15, 14, 13, 14, 15, 14, 15, 16, 15, 17, 18, 16, 15, 14, 15, 16],
    [17, 16, 15, 16, 17, 18, 17, 16, 18, 19, 18, 17, 19, 20, 21, 23, 25, 24, 22, 20, 18, 19, 20],
    [18, 17, 16, 15, 16, 17, 18, 17, 16, 18, 19, 18, 17, 18, 19, 18, 17, 18, 19, 20, 19, 20, 22, 24, 26, 27, 28, 26],
]
C8_BLUE = [
    [3.6, 4.0, 4.1, 4.4, 5.0, 5.6, 5.0, 4.7, 4.4, 4.2, 3.8, 2.7, 2.8, 3.2, 3.9, 3.5, 3.7, 4.2, 4.1, 3.6, 3.4, 3.6, 4.0, 4.4, 4.9, 5.1, 5.4, 6.4, 6.8, 5.0, 4.8, 4.2],
    [5, 5.5, 6, 5.5, 5, 5.5, 6, 5.5, 5, 5.5, 6, 6.5, 6, 5.5, 5, 5.5, 6],
    [10, 11, 12, 11, 10, 11, 12, 11, 10, 11, 12, 13, 12, 11, 10, 11, 12, 13, 12, 11, 12, 13, 12, 11, 10, 11],
    [13, 14, 15, 17, 16, 14, 13, 14, 15, 14, 13, 14, 15, 14, 13, 14, 15, 16, 15, 14, 15, 14, 13, 14, 15],
    [19, 20, 21, 19, 18, 19, 20, 19, 18, 19, 20, 19, 18, 19, 20, 21, 19, 18, 19, 20, 19, 18, 19, 20, 19, 20, 21, 20, 22, 24, 22],
    [22, 19, 18, 17, 18, 19, 18, 17, 18, 19, 20, 19, 18, 22, 27, 29, 26, 22, 20, 19, 18, 20, 19, 18, 19, 20, 18, 19, 22, 23],
]

RED = [C1_RED, C2_RED, C3_RED, C4_RED, C5_RED, C6_RED, C7_RED, C8_RED]
GREEN = [C1_GREEN, C2_GREEN, C3_GREEN, C4_GREEN, C5_GREEN, C6_GREEN, C7_GREEN, C8_GREEN]
BLUE = [C1_BLUE, C2_BLUE, C3_BLUE, C4_BLUE, C5_BLUE, C6_BLUE, C7_BLUE, C8_BLUE]

SERIES = [
    ("red", RED, LEN_RED, MEAN_RED),
    ("green", GREEN, LEN_GREEN, MEAN_GREEN),
    ("blue", BLUE, LEN_BLUE, MEAN_BLUE),
]

fig = plt.figure(figsize=(50, 50), dpi=100)
gs = fig.add_gridspec(8, 14)

for r, ch in enumerate(CHANNELS):
    for c, kg in enumerate(KG):
        ax = fig.add_subplot(gs[r, c])
        for color, data, lens, means in SERIES:
            vals = np.asarray(data[r][c], dtype=float)
            n = lens[c]
            x = np.linspace(0, n - 1, len(vals))
            ax.plot(x, vals, color=color, lw=1.5)
            ax.hlines(means[r][c], 0, n - 1, color=color, lw=1.5)
        ax.set_ylim(0, 128)
        ax.set_title(f"{kg} {ch}")

fig.tight_layout()
fig.savefig("out.png", dpi=100)
